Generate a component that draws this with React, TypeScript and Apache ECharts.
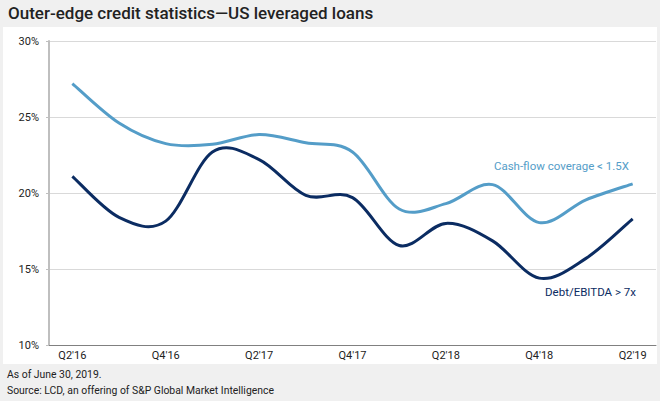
import React, { useEffect, useRef } from "react";
import * as echarts from "echarts";

const categories = ["Q2'16", "Q3'16", "Q4'16", "Q1'17", "Q2'17", "Q3'17", "Q4'17", "Q1'18", "Q2'18", "Q3'18", "Q4'18", "Q1'19", "Q2'19"];
const cashFlowCoverage = [27.2, 24.6, 23.25, 23.2, 23.85, 23.3, 22.7, 18.95, 19.3, 20.55, 18.05, 19.55, 20.6];
const debtToEbitda = [21.1, 18.4, 18.15, 22.7, 22.2, 19.85, 19.7, 16.55, 18.0, 16.85, 14.4, 15.7, 18.3];
const titleText = "Outer-edge credit statistics\u2014US leveraged loans";
const footerLines = ["As of June 30, 2019.", "Source: LCD, an offering of S&P Global Market Intelligence"];
const seriesNames = ["Cash-flow coverage < 1.5X", "Debt/EBITDA > 7x"];

const LIGHT = "#549dc8";
const DARK = "#0b2c62";
const FONT = "Roboto, 'Noto Sans', sans-serif";

function smoothSeries(name: string, values: number[], color: string) {
  return {
    name,
    type: "custom",
    data: values.map((v, i) => [i, v]),
    encode: { x: 0, y: 1 },
    renderItem: (params: any, api: any) => {
      if (params.dataIndex !== 0) return null;
      const pts = values.map((v, i) => api.coord([i, v]));
      const n = pts.length;
      const p = (k: number) => pts[Math.max(0, Math.min(n - 1, k))];
      let d = `M${pts[0][0]},${pts[0][1]}`;
      for (let i = 0; i < n - 1; i++) {
        const p0 = p(i - 1), p1 = p(i), p2 = p(i + 1), p3 = p(i + 2);
        const c1x = p1[0] + (p2[0] - p0[0]) / 6;
        const c1y = p1[1] + (p2[1] - p0[1]) / 6;
        const c2x = p2[0] - (p3[0] - p1[0]) / 6;
        const c2y = p2[1] - (p3[1] - p1[1]) / 6;
        d += ` C${c1x},${c1y} ${c2x},${c2y} ${p2[0]},${p2[1]}`;
      }
      return {
        type: "path",
        shape: { pathData: d },
        style: { stroke: color, lineWidth: 3, fill: "none" },
      };
    },
  };
}

export default function App() {
  const ref = useRef<HTMLDivElement>(null);
  useEffect(() => {
    document.body.style.margin = "0";
    const chart = echarts.init(ref.current!, null, { renderer: "svg" });
    chart.setOption({
      animation: false,
      backgroundColor: "#f0f0f0",
      textStyle: { fontFamily: FONT },
      graphic: [
        { type: "rect", z: -10, shape: { x: 3, y: 27, width: 654, height: 337 }, style: { fill: "#ffffff" }, silent: true },
        { type: "text", x: 8, y: 4, style: { text: titleText, font: `500 17px ${FONT}`, fill: "#222222" } },
        { type: "text", x: 7, y: 369, style: { text: footerLines[0], font: `10.4px ${FONT}`, fill: "#222222" } },
        { type: "text", x: 7, y: 385, style: { text: footerLines[1], font: `10.4px ${FONT}`, fill: "#222222" } },
        { type: "text", x: 629, y: 166, style: { text: seriesNames[0], font: `11.5px ${FONT}`, fill: LIGHT, align: "right", verticalAlign: "middle" } },
        { type: "text", x: 636, y: 292, style: { text: seriesNames[1], font: `11.5px ${FONT}`, fill: DARK, align: "right", verticalAlign: "middle" } },
      ],
      grid: { left: 49, top: 41, width: 607, height: 304, containLabel: false },
      xAxis: {
        type: "category",
        data: categories,
        boundaryGap: true,
        axisLine: { lineStyle: { color: "#808080", width: 1 } },
        axisTick: { show: false },
        axisLabel: { interval: 1, color: "#222222", fontSize: 11, margin: 5, fontFamily: FONT },
        splitLine: { show: false },
      },
      yAxis: {
        type: "value",
        min: 10,
        max: 30,
        interval: 5,
        axisLine: { show: true, lineStyle: { color: "#bfbfbf", width: 2 } },
        axisTick: { show: true, length: 3, lineStyle: { color: "#bfbfbf" } },
        axisLabel: { formatter: "{value}%", color: "#222222", fontSize: 11, margin: 10, fontFamily: FONT },
        splitLine: { lineStyle: { color: "#d9d9d9", width: 1 } },
      },
      series: [
        smoothSeries(seriesNames[0], cashFlowCoverage, LIGHT),
        smoothSeries(seriesNames[1], debtToEbitda, DARK),
      ],
    });
    return () => chart.dispose();
  }, []);
  return <div ref={ref} style={{ width: 660, height: 401 }} />;
}
